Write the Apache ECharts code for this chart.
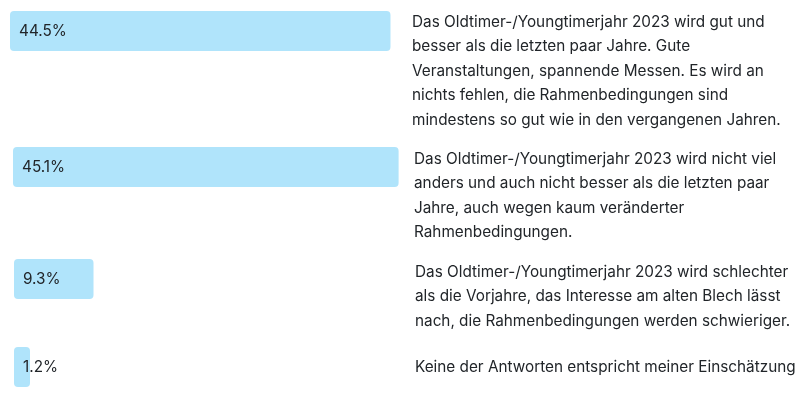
<!DOCTYPE html>
<html>
<head>
	<meta http-equiv="Content-Type" content="text/html; charset=utf-8" />
	<title></title>
	<script src="https://cdn.jsdelivr.net/npm/echarts@6/dist/echarts.min.js"></script>
</head>
<body style="padding: 0;margin: 0;background: #fff;">
<div id="main" style="width: 800px;height: 404px;"></div>

<script type="text/javascript">
	// Daten
	var shares = [44.5, 45.1, 9.3, 1.2];
	var answers = [
		"Das Oldtimer-/Youngtimerjahr 2023 wird gut und\nbesser als die letzten paar Jahre. Gute\nVeranstaltungen, spannende Messen. Es wird an\nnichts fehlen, die Rahmenbedingungen sind\nmindestens so gut wie in den vergangenen Jahren.",
		"Das Oldtimer-/Youngtimerjahr 2023 wird nicht viel\nanders und auch nicht besser als die letzten paar\nJahre, auch wegen kaum veränderter\nRahmenbedingungen.",
		"Das Oldtimer-/Youngtimerjahr 2023 wird schlechter\nals die Vorjahre, das Interesse am alten Blech lässt\nnach, die Rahmenbedingungen werden schwieriger.",
		"Keine der Antworten entspricht meiner Einschätzung"
	];

	// Layout (Pixel)
	var barTop = [11, 147, 259, 347];
	var barLeft = [10, 13, 14, 14];
	var textLeft = [412, 414, 415, 415];
	var textTop = [10, 147, 260, 355];
	var barH = 40;
	var axisMax = 50;
	var pxPerUnit = 8.55;
	var font = 'Inter, "Noto Sans", sans-serif';
	var fsize = 15.3;

	var myChart = echarts.init(document.getElementById('main'));

	var grids = [], xAxes = [], yAxes = [], series = [], texts = [];
	for (var i = 0; i < shares.length; i++) {
		grids.push({
			left: barLeft[i],
			top: barTop[i],
			width: axisMax * pxPerUnit,
			height: barH
		});
		xAxes.push({
			gridIndex: i, type: 'value', min: 0, max: axisMax, show: false
		});
		yAxes.push({
			gridIndex: i, type: 'category', data: ['a' + i], show: false
		});
		series.push({
			type: 'bar',
			xAxisIndex: i,
			yAxisIndex: i,
			data: [shares[i]],
			barWidth: barH,
			barMinHeight: 16,
			silent: true,
			itemStyle: { color: '#b0e4fb', borderRadius: 4 },
			label: {
				show: true,
				position: 'insideLeft',
				distance: 9,
				formatter: '{c}%',
				color: '#212529',
				fontSize: fsize,
				fontFamily: font
			}
		});
		texts.push({
			type: 'text',
			x: textLeft[i],
			y: textTop[i],
			silent: true,
			style: {
				text: answers[i],
				fill: '#212529',
				fontSize: fsize,
				fontFamily: font,
				lineHeight: 24.5,
				verticalAlign: 'top'
			}
		});
	}

	var option = {
		animation: false,
		grid: grids,
		xAxis: xAxes,
		yAxis: yAxes,
		series: series,
		graphic: texts
	};
	myChart.setOption(option);
</script>
</body>
</html>
